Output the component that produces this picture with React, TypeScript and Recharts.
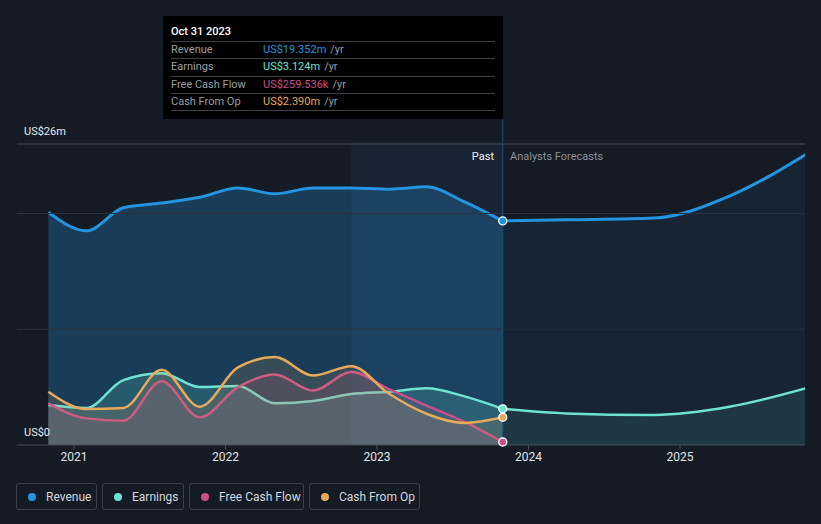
import React from "react";
import {
  ComposedChart,
  Area,
  XAxis,
  YAxis,
  ReferenceLine,
  ReferenceArea,
  ReferenceDot,
} from "recharts";

// quarterly history, trailing twelve months (US$ m)
const pastDates = [
  "2020-10-31", "2021-01-31", "2021-04-30", "2021-07-31", "2021-10-31",
  "2022-01-31", "2022-04-30", "2022-07-31", "2022-10-31", "2023-01-31",
  "2023-04-30", "2023-07-31", "2023-10-31",
];
const revenuePast = [20.1, 18.5, 20.5, 20.9, 21.4, 22.2, 21.7, 22.2, 22.2, 22.1, 22.3, 21.0, 19.352];
const earningsPast = [3.45, 3.2, 5.6, 6.2, 5.0, 5.1, 3.6, 3.8, 4.4, 4.6, 4.9, 4.2, 3.124];
const fcfPast = [3.6, 2.3, 2.1, 5.5, 2.4, 5.0, 6.1, 4.7, 6.3, 4.8, 3.4, 2.0, 0.259536];
const cfoPast = [4.6, 3.1, 3.2, 6.5, 3.3, 6.7, 7.6, 6.0, 6.8, 4.4, 2.7, 1.9, 2.39];

// analyst forecasts
const forecastDates = ["2023-10-31", "2024-03-31", "2024-10-31", "2025-04-30", "2025-10-31"];
const revenueFcst = [19.352, 19.45, 19.6, 21.5, 25.1];
const earningsFcst = [3.124, 2.73, 2.6, 3.3, 4.9];

const yearTicks = [2021, 2022, 2023, 2024, 2025];
const yDomain = [0, 26];

const COLORS = {
  revenue: "#2394df",
  earnings: "#6ee3d2",
  fcf: "#c94f8b",
  cfo: "#e8a95a",
};

const FONT = "Roboto, 'Noto Sans', sans-serif";

function toYear(d: string) {
  const [y, m, day] = d.split("-").map(Number);
  const start = Date.UTC(y, 0, 1);
  const end = Date.UTC(y + 1, 0, 1);
  return y + (Date.UTC(y, m - 1, day) - start) / (end - start);
}

type Row = { x: number; [k: string]: number };

function buildRows(): Row[] {
  const map = new Map<number, Row>();
  const get = (d: string) => {
    const x = toYear(d);
    if (!map.has(x)) map.set(x, { x });
    return map.get(x)!;
  };
  pastDates.forEach((d, i) => {
    const r = get(d);
    r.revenuePast = revenuePast[i];
    r.earningsPast = earningsPast[i];
    r.fcf = fcfPast[i];
    r.cfo = cfoPast[i];
  });
  forecastDates.forEach((d, i) => {
    const r = get(d);
    r.revenueFcst = revenueFcst[i];
    r.earningsFcst = earningsFcst[i];
  });
  return [...map.values()].sort((a, b) => a.x - b.x);
}

const rows = buildRows();
const pastEnd = toYear(pastDates[pastDates.length - 1]);
const bandStart = toYear("2022-10-31");
const last = pastDates.length - 1;

function fmt(v: number) {
  return v < 1 ? `US$${(v * 1000).toFixed(3)}k` : `US$${v.toFixed(3)}m`;
}

const tooltipRows = [
  { label: "Revenue", value: revenuePast[last], color: COLORS.revenue },
  { label: "Earnings", value: earningsPast[last], color: COLORS.earnings },
  { label: "Free Cash Flow", value: fcfPast[last], color: COLORS.fcf },
  { label: "Cash From Op", value: cfoPast[last], color: COLORS.cfo },
];

export default function App() {
  return (
    <div
      style={{
        position: "absolute",
        left: 0,
        top: 0,
        width: 821,
        height: 524,
        background: "#151b25",
        fontFamily: FONT,
        overflow: "hidden",
      }}
    >
      <ComposedChart
        width={821}
        height={524}
        data={rows}
        margin={{ top: 144, right: 16, bottom: 49, left: 17 }}
      >
        <XAxis
          type="number"
          dataKey="x"
          domain={[2020.624, 2025.825]}
          ticks={yearTicks}
          allowDataOverflow
          tickFormatter={(v) => String(v)}
          tick={{ fill: "#e2e4e8", fontSize: 12, fontFamily: FONT }}
          axisLine={{ stroke: "#474e59" }}
          tickLine={{ stroke: "#474e59" }}
          tickSize={5}
          height={30}
        />
        <YAxis hide domain={yDomain} allowDataOverflow />
        <ReferenceArea
          x1={bandStart}
          x2={pastEnd}
          y1={0}
          y2={26.2}
          ifOverflow="visible"
          fill="#2a4a6a"
          fillOpacity={0.18}
          stroke="none"
        />
        <ReferenceLine y={26} stroke="#454b55" strokeWidth={1} />
        <ReferenceLine y={20} stroke="#2a323d" strokeWidth={1} />
        <ReferenceLine y={10} stroke="#2a323d" strokeWidth={1} />
        <Area
          type="monotone"
          dataKey="revenuePast"
          stroke={COLORS.revenue}
          strokeWidth={3}
          fill={COLORS.revenue}
          fillOpacity={0.28}
          isAnimationActive={false}
          dot={false}
          activeDot={false}
        />
        <Area
          type="monotone"
          dataKey="revenueFcst"
          stroke={COLORS.revenue}
          strokeWidth={3}
          fill={COLORS.revenue}
          fillOpacity={0.08}
          isAnimationActive={false}
          dot={false}
          activeDot={false}
        />
        <Area
          type="monotone"
          dataKey="earningsPast"
          stroke={COLORS.earnings}
          strokeWidth={2.5}
          fill={COLORS.earnings}
          fillOpacity={0.18}
          isAnimationActive={false}
          dot={false}
          activeDot={false}
        />
        <Area
          type="monotone"
          dataKey="earningsFcst"
          stroke={COLORS.earnings}
          strokeWidth={2.5}
          fill={COLORS.earnings}
          fillOpacity={0.1}
          isAnimationActive={false}
          dot={false}
          activeDot={false}
        />
        <Area
          type="monotone"
          dataKey="fcf"
          stroke={COLORS.fcf}
          strokeWidth={2.5}
          fill={COLORS.fcf}
          fillOpacity={0.15}
          isAnimationActive={false}
          dot={false}
          activeDot={false}
        />
        <Area
          type="monotone"
          dataKey="cfo"
          stroke={COLORS.cfo}
          strokeWidth={2.5}
          fill={COLORS.cfo}
          fillOpacity={0.15}
          isAnimationActive={false}
          dot={false}
          activeDot={false}
        />
        <ReferenceLine
          segment={[
            { x: pastEnd, y: 0 },
            { x: pastEnd, y: 28.15 },
          ]}
          ifOverflow="visible"
          stroke="#1f5074"
          strokeWidth={1}
        />
        {tooltipRows.map((r) => (
          <ReferenceDot
            key={r.label}
            x={pastEnd}
            y={r.value}
            r={4}
            fill={r.color}
            stroke="#ffffff"
            strokeWidth={1.3}
            ifOverflow="visible"
          />
        ))}
      </ComposedChart>

      {/* y labels */}
      <div style={{ position: "absolute", left: 24, top: 125, fontSize: 11, color: "#e8eaee" }}>US$26m</div>
      <div style={{ position: "absolute", left: 24, top: 426, fontSize: 11, color: "#e8eaee" }}>US$0</div>

      {/* past / forecast */}
      <div style={{ position: "absolute", right: 821 - 494, top: 150, fontSize: 11, color: "#f0f2f5" }}>Past</div>
      <div style={{ position: "absolute", left: 510, top: 150, fontSize: 11, color: "#8a8f97" }}>Analysts Forecasts</div>

      {/* static tooltip */}
      <div
        style={{
          position: "absolute",
          left: 163,
          top: 16,
          width: 340,
          height: 103,
          background: "#000000",
          boxSizing: "border-box",
          padding: "9px 8px 0 8px",
          fontSize: 11,
        }}
      >
        <div style={{ color: "#ffffff", fontWeight: 500, height: 16 }}>Oct 31 2023</div>
        {tooltipRows.map((r) => (
          <div
            key={r.label}
            style={{
              display: "flex",
              borderTop: "1px solid #3c3f44",
              height: 16.3,
              lineHeight: "16.3px",
            }}
          >
            <span style={{ width: 92, color: "#9a9ea5" }}>{r.label}</span>
            <span style={{ color: r.color }}>{fmt(r.value)}</span>
            <span style={{ color: "#9a9ea5", marginLeft: 4 }}>/yr</span>
          </div>
        ))}
        <div style={{ borderTop: "1px solid #3c3f44" }} />
      </div>

      {/* legend */}
      <div style={{ position: "absolute", left: 16, top: 483, display: "flex", gap: 5 }}>
        {[
          { label: "Revenue", color: COLORS.revenue, w: 81 },
          { label: "Earnings", color: COLORS.earnings, w: 82 },
          { label: "Free Cash Flow", color: COLORS.fcf, w: 115 },
          { label: "Cash From Op", color: COLORS.cfo, w: 111 },
        ].map((l) => (
          <div
            key={l.label}
            style={{
              width: l.w,
              height: 27,
              boxSizing: "border-box",
              border: "1px solid #3a404b",
              borderRadius: 3,
              display: "flex",
              alignItems: "center",
              paddingLeft: 11,
              fontSize: 12,
              color: "#d4d7dc",
            }}
          >
            <span
              style={{
                width: 8,
                height: 8,
                borderRadius: 4,
                background: l.color,
                marginRight: 10,
              }}
            />
            {l.label}
          </div>
        ))}
      </div>
    </div>
  );
}
